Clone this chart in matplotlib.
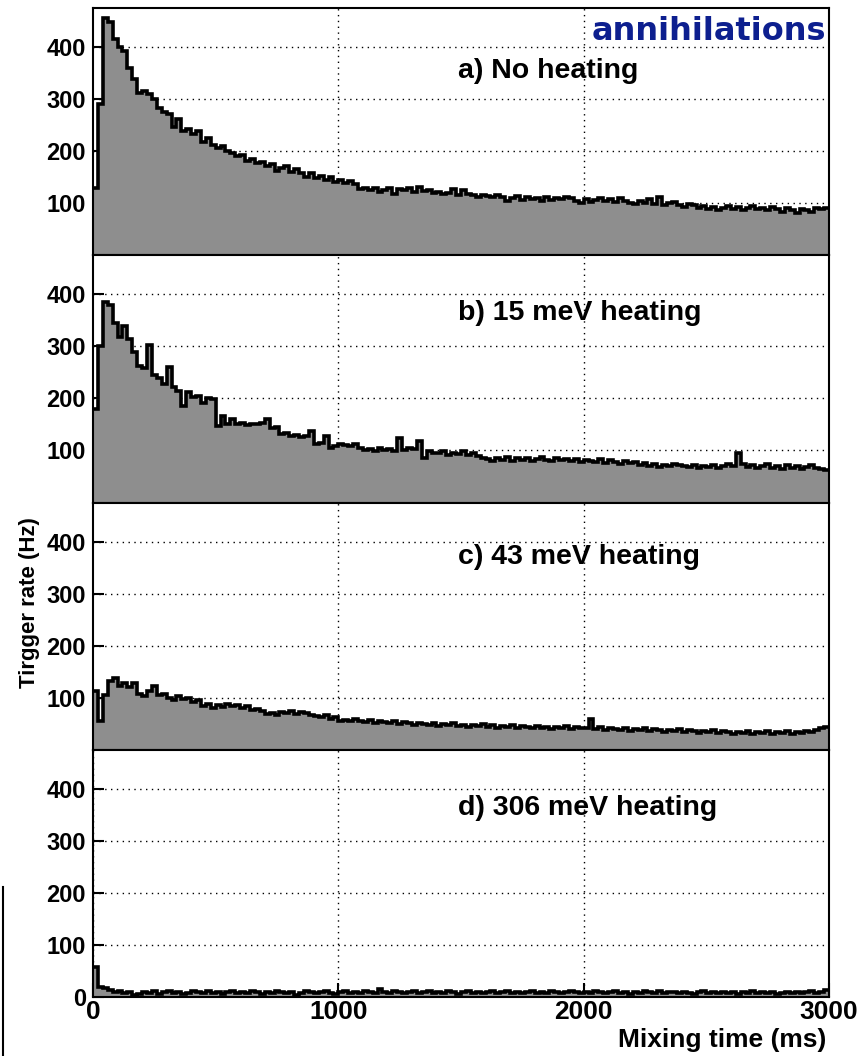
import numpy as np
import matplotlib
matplotlib.use("Agg")
import matplotlib.pyplot as plt
from matplotlib.lines import Line2D

# ---------------- data (20 ms bins, 0-3000 ms) ----------------
bin_width_ms = 20
x_max = 3000

rate_no_heating = [
    130, 290, 455, 448, 415, 400, 392, 360, 338, 312,
    316, 310, 300, 282, 276, 272, 246, 262, 238, 242,
    232, 238, 218, 225, 212, 206, 210, 200, 196, 190,
    192, 182, 185, 178, 180, 172, 176, 162, 168, 172,
    160, 165, 158, 150, 158, 148, 152, 145, 150, 140,
    145, 138, 142, 136, 128, 130, 125, 130, 122, 126,
    130, 118, 128, 125, 130, 122, 132, 124, 126, 120,
    122, 118, 120, 128, 116, 126, 118, 115, 112, 116,
    114, 112, 115, 112, 104, 110, 114, 106, 112, 108,
    110, 104, 112, 106, 110, 108, 112, 110, 104, 100,
    108, 102, 106, 110, 104, 108, 102, 110, 104, 100,
    98, 104, 100, 108, 98, 112, 96, 100, 102, 96,
    92, 98, 96, 90, 94, 88, 92, 86, 90, 94,
    88, 92, 86, 90, 94, 88, 90, 86, 92, 88,
    84, 90, 86, 82, 88, 86, 84, 90, 88, 90,
]

rate_15meV = [
    180, 300, 385, 380, 345, 318, 340, 314, 290, 262,
    258, 303, 245, 239, 228, 261, 222, 215, 186, 212,
    202, 205, 192, 200, 198, 147, 167, 150, 160, 150,
    152, 148, 150, 150, 152, 160, 143, 145, 131, 133,
    127, 130, 125, 128, 137, 112, 115, 127, 104, 108,
    112, 110, 108, 112, 104, 100, 102, 98, 104, 100,
    102, 98, 124, 100, 104, 102, 118, 86, 98, 96,
    95, 98, 92, 96, 94, 98, 92, 95, 90, 86,
    84, 80, 86, 82, 88, 80, 85, 82, 86, 80,
    84, 88, 82, 80, 86, 82, 84, 80, 84, 78,
    82, 80, 78, 84, 76, 82, 78, 74, 80, 76,
    78, 72, 76, 70, 74, 68, 72, 70, 74, 72,
    70, 68, 72, 66, 70, 68, 72, 66, 70, 74,
    70, 95, 74, 68, 72, 66, 70, 74, 66, 70,
    64, 72, 66, 70, 64, 68, 72, 66, 64, 62,
]

rate_43meV = [
    112, 55, 105, 132, 138, 122, 128, 120, 128, 108,
    104, 112, 122, 105, 108, 100, 96, 104, 98, 100,
    92, 95, 84, 88, 80, 86, 82, 88, 84, 86,
    80, 84, 76, 78, 74, 68, 70, 66, 72, 70,
    74, 68, 72, 70, 66, 64, 62, 66, 60, 62,
    56, 58, 55, 60, 56, 54, 58, 52, 56, 54,
    52, 56, 50, 54, 52, 48, 52, 50, 48, 52,
    46, 50, 48, 52, 46, 48, 44, 48, 46, 50,
    44, 48, 42, 46, 44, 48, 42, 46, 44, 42,
    46, 42, 44, 40, 44, 42, 46, 40, 44, 42,
    42, 60, 40, 44, 38, 42, 40, 38, 42, 36,
    40, 38, 42, 36, 40, 38, 34, 38, 36, 40,
    34, 38, 36, 32, 36, 34, 38, 32, 36, 34,
    30, 34, 32, 36, 30, 34, 32, 36, 30, 34,
    32, 36, 30, 34, 32, 36, 34, 38, 42, 44,
]

rate_306meV = [
    58, 20, 18, 14, 10, 12, 8, 10, 4, 6,
    10, 8, 12, 6, 9, 11, 7, 10, 5, 8,
    12, 9, 7, 11, 8, 10, 6, 9, 12, 8,
    10, 7, 11, 9, 6, 10, 8, 12, 9, 7,
    10, 4, 8, 11, 9, 7, 10, 12, 8, 6,
    9, 11, 8, 10, 7, 12, 9, 8, 15, 10,
    8, 11, 9, 7, 10, 12, 8, 9, 11, 7,
    10, 8, 12, 9, 6, 10, 11, 8, 9, 7,
    10, 12, 8, 9, 11, 7, 10, 8, 9, 12,
    8, 10, 7, 11, 9, 8, 10, 12, 9, 7,
    10, 8, 11, 9, 7, 10, 12, 8, 9, 6,
    10, 8, 11, 9, 7, 12, 8, 10, 9, 7,
    10, 8, 6, 9, 11, 8, 10, 7, 9, 8,
    10, 6, 9, 8, 11, 7, 9, 8, 10, 6,
    8, 9, 7, 10, 8, 9, 11, 8, 10, 14,
]

panel_labels = ["a) No heating", "b) 15 meV heating",
                "c) 43 meV heating", "d) 306 meV heating"]
series = [rate_no_heating, rate_15meV, rate_43meV, rate_306meV]
y_ticks = [100, 200, 300, 400]
x_ticks = [0, 1000, 2000, 3000]
x_tick_labels = ["0", "1000", "2000", "3000"]
y_label = "Tirgger rate (Hz)"
x_label = "Mixing time (ms)"
corner_text = "annihilations"

# ---------------- figure ----------------
W, H = 859, 1056
fig = plt.figure(figsize=(W / 100, H / 100), dpi=100)
plt.rcParams['font.family'] = ['Liberation Sans', 'DejaVu Sans']

left, right = 93 / W, 829 / W
top, bottom = 1 - 8 / H, 1 - 997 / H
ph = (top - bottom) / 4

fill_col = '#8e8e8e'
edges = np.arange(0, x_max + bin_width_ms, bin_width_ms)
label_y = [0.745, 0.765, 0.78, 0.765]

axes = []
for k, (vals, lab) in enumerate(zip(series, panel_labels)):
    ax = fig.add_axes([left, top - (k + 1) * ph, right - left, ph])
    axes.append(ax)
    vals = np.asarray(vals, dtype=float)
    ax.stairs(vals, edges, fill=True, color=fill_col, zorder=2, linewidth=0)
    ax.stairs(vals, edges, baseline=None, color='black', linewidth=2.6, zorder=3)
    ax.set_xlim(0, x_max)
    ax.set_ylim(0, 475)
    if k == 3:
        ax.set_yticks([0] + y_ticks)
    else:
        ax.set_yticks(y_ticks)
    ax.set_xticks([1000, 2000])
    ax.grid(True, color='black', linestyle=(0, (1, 3.2)), linewidth=1.0)
    ax.set_axisbelow(True)
    for s in ax.spines.values():
        s.set_linewidth(1.5)
        s.set_zorder(5)
    ax.tick_params(axis='both', direction='in', length=8, width=1.5,
                   labelsize=17, pad=5)
    ax.tick_params(axis='x', length=10)
    for t in ax.get_yticklabels():
        t.set_fontweight('bold')
    if k < 3:
        ax.tick_params(axis='x', labelbottom=False)
    ax.text(0.496, label_y[k], lab, transform=ax.transAxes, fontsize=20.5,
            fontweight='bold', ha='left', va='center', zorder=6)

axd = axes[3]
axd.set_xticks(x_ticks)
axd.set_xticklabels(x_tick_labels, fontweight='bold')
axd.tick_params(axis='x', pad=2, labelsize=19)

axes[0].text(0.996, 0.905, corner_text, transform=axes[0].transAxes,
             fontsize=23, fontweight='bold', color='#0d1f8f',
             family='DejaVu Sans', ha='right', va='center', zorder=6)

fig.text(30 / W, 1 - 603 / H, y_label, rotation=90, fontsize=16,
         fontweight='bold', ha='center', va='center')
fig.text(826 / W, 1 - 1040 / H, x_label, fontsize=19,
         fontweight='bold', ha='right', va='center')

fig.add_artist(Line2D([3.5 / W, 3.5 / W], [1 - 887 / H, 0.0],
                      transform=fig.transFigure, color='black', linewidth=1.5))

fig.savefig("out.png", dpi=100)
